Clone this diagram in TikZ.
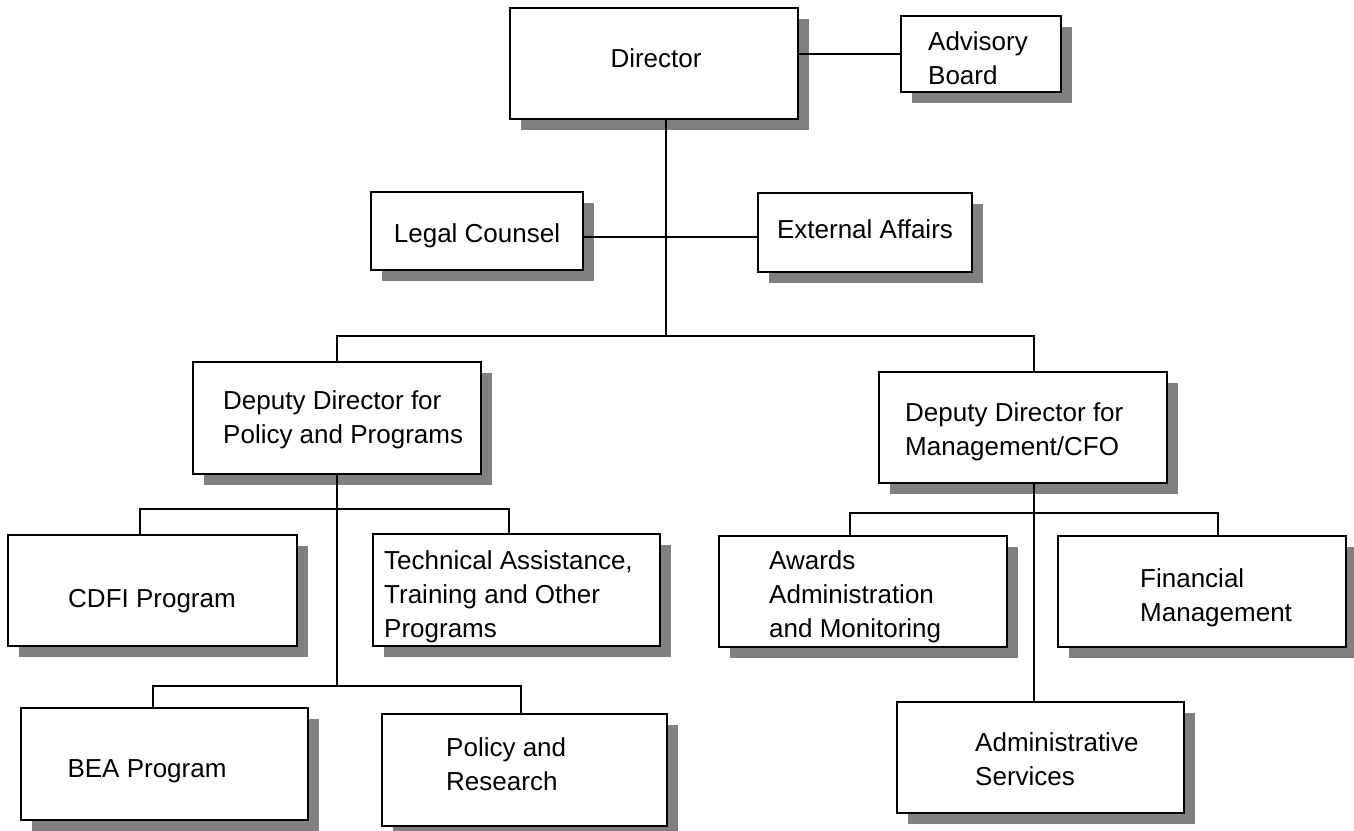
\documentclass[tikz,border=0pt]{standalone}
\usepackage{fontspec}
\setmainfont{Liberation Sans}
\usepackage{tikz}
\usetikzlibrary{shadows}
\definecolor{ink}{HTML}{000000}
\definecolor{shade}{HTML}{808080}
\tikzset{
  box/.style={draw=ink, fill=white, line width=1.8pt, inner sep=0pt,
    drop shadow={shadow xshift=11pt, shadow yshift=-11pt, opacity=1, fill=shade}},
  wire/.style={draw=ink, line width=1.4pt},
  lab/.style={text=ink, font=\fontsize{26}{34}\selectfont, align=left, inner sep=0pt},
}
\begin{document}
\begin{tikzpicture}[x=1pt,y=-1pt]
  \useasboundingbox (0,0) rectangle (1354,830);
  % top
  \node[box, minimum width=288pt, minimum height=111pt] (dir) at (654,63.5) {};
  \node[lab] (dir-t) at (656,58) {Director};
  \node[box, minimum width=160pt, minimum height=76pt] (adv) at (981,54) {};
  \node[lab] (adv-t) at (978,58) {Advisory\\Board};
  \node[box, minimum width=212pt, minimum height=78pt] (legal) at (477,231) {};
  \node[lab] (legal-t) at (477,236) {Legal Counsel};
  \node[box, minimum width=214pt, minimum height=79pt] (ext) at (865,232.5) {};
  \node[lab] (ext-t) at (865,229) {External Affairs};
  % deputies
  \node[box, minimum width=288pt, minimum height=112pt] (dpp) at (337,418) {};
  \node[lab, anchor=west] (dpp-t) at (223,420) {Deputy Director for\\Policy and Programs};
  \node[box, minimum width=288pt, minimum height=111pt] (dmc) at (1023,427.5) {};
  \node[lab, anchor=west] (dmc-t) at (905,432) {Deputy Director for\\Management/CFO};
  % policy and programs side
  \node[box, minimum width=289pt, minimum height=111pt] (cdfi) at (152.5,590.5) {};
  \node[lab] (cdfi-t) at (152,601) {CDFI Program};
  \node[box, minimum width=287pt, minimum height=112pt] (tech) at (516.5,590) {};
  \node[lab, anchor=west] (tech-t) at (384,597) {Technical Assistance,\\Training and Other\\Programs};
  \node[box, minimum width=287pt, minimum height=112pt] (bea) at (164.5,764) {};
  \node[lab] (bea-t) at (147,771) {BEA Program};
  \node[box, minimum width=285pt, minimum height=112pt] (pr) at (524.5,770) {};
  \node[lab, anchor=west] (pr-t) at (446,764) {Policy and\\Research};
  % management side
  \node[box, minimum width=288pt, minimum height=111pt] (awd) at (863,591.5) {};
  \node[lab, anchor=west] (awd-t) at (769,597) {Awards\\Administration\\and Monitoring};
  \node[box, minimum width=288pt, minimum height=111pt] (fin) at (1202,591.5) {};
  \node[lab, anchor=west] (fin-t) at (1140,598) {Financial\\Management};
  \node[box, minimum width=287pt, minimum height=111pt] (adm) at (1040.5,757.5) {};
  \node[lab, anchor=west] (adm-t) at (975,759) {Administrative\\Services};
  % lines
  \coordinate (bus) at (666,336);
  \coordinate (pj) at (337,509);
  \coordinate (pk) at (337,686);
  \coordinate (mj) at (1034,513);
  \coordinate (lx) at ([yshift=-6pt]legal.east);
  \draw[wire] (adv.west) -- (adv.west -| dir.east);
  \draw[wire] (dir.south -| bus) -- (bus);
  \draw[wire] (lx) -- (lx -| ext.west);
  \draw[wire] (dpp.north) |- (bus) -| ([xshift=11pt]dmc.north);
  \draw[wire] (dpp.south) -- (pk);
  \draw[wire] ([xshift=-12.5pt]cdfi.north) |- (pj) -| ([xshift=-7.5pt]tech.north);
  \draw[wire] ([xshift=-11.5pt]bea.north) |- (pk) -| ([xshift=-3.5pt]pr.north);
  \draw[wire] ([xshift=11pt]dmc.south) -- ([xshift=-6.5pt]adm.north);
  \draw[wire] ([xshift=-13pt]awd.north) |- (mj) -| ([xshift=16pt]fin.north);
\end{tikzpicture}
\end{document}
